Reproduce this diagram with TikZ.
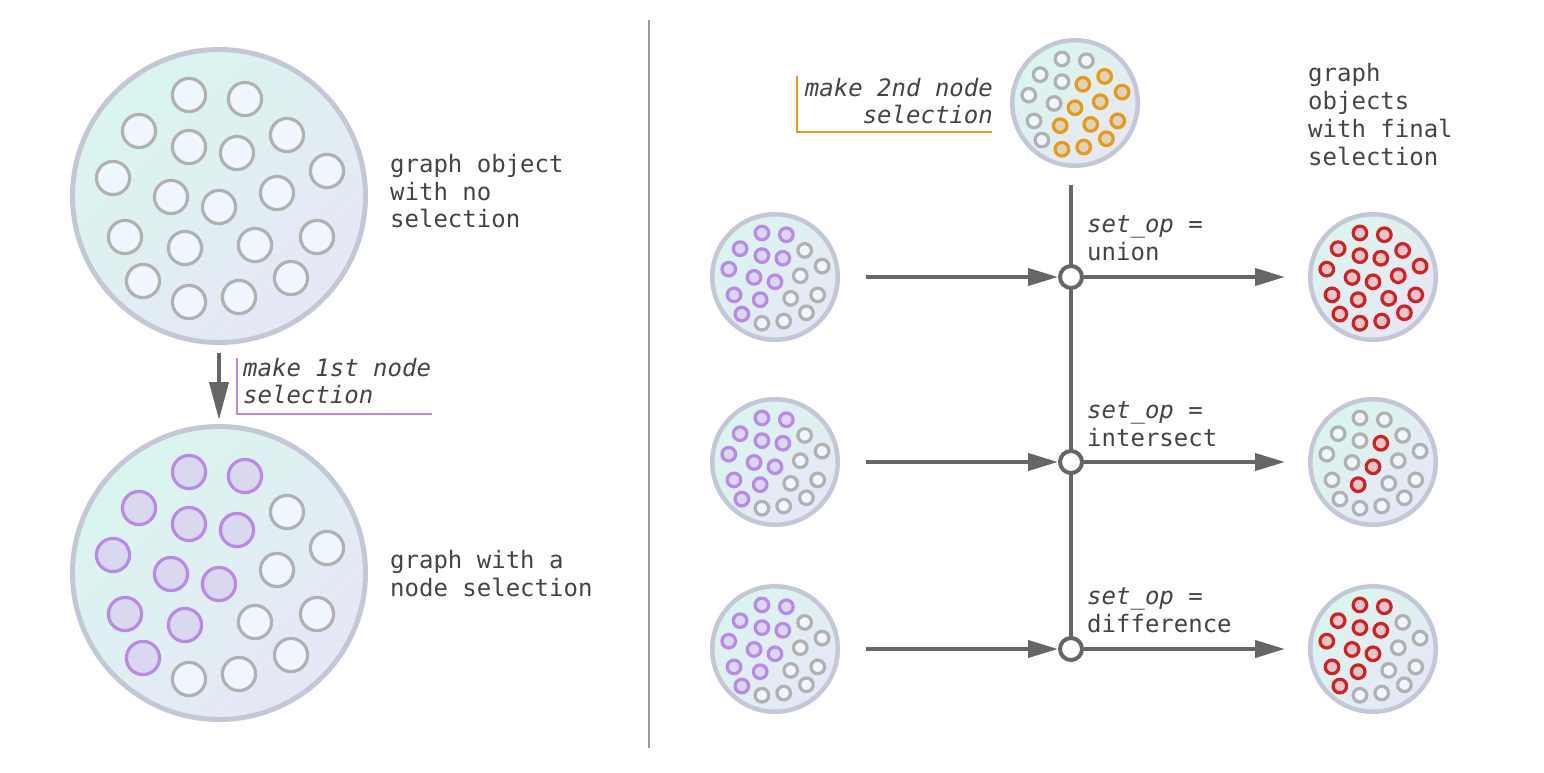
\documentclass[tikz,border=0pt]{standalone}
\usepackage{fontspec}
\newfontfamily\mono{DejaVu Sans Mono}
\usetikzlibrary{arrows.meta}
\pgfdeclarelayer{bg}
\pgfsetlayers{bg,main}
\definecolor{ringc}{HTML}{C4C7D7}
\definecolor{mint}{HTML}{D9F6EE}
\definecolor{lav}{HTML}{E7E7F6}
\definecolor{grayst}{HTML}{B1B1B1}
\definecolor{grayfill}{HTML}{EFF6FD}
\definecolor{purst}{HTML}{BB88EA}
\definecolor{purfill}{HTML}{D9D8EE}
\definecolor{orst}{HTML}{E89A12}
\definecolor{orfill}{HTML}{DCD3C0}
\definecolor{redst}{HTML}{D42020}
\definecolor{redfill}{HTML}{E2C8CC}
\definecolor{linec}{HTML}{666666}
\definecolor{txt}{HTML}{444444}
\definecolor{sepc}{HTML}{9B9B9B}

\def\DX{{-30,26,-80,68,-30,18,-106,108,-48,0,58,-94,-34,36,98,-76,-30,20,72}}
\def\DY{{-101,-97,-65,-61,-49,-43,-18,-25,1,11,-3,41,52,49,41,85,106,101,82}}
\def\SelNone{{0,0,0,0,0,0,0,0,0,0,0,0,0,0,0,0,0,0,0}}
\def\SelP{{1,1,1,0,1,1,1,0,1,1,0,1,1,0,0,1,0,0,0}}
\def\SelO{{0,0,0,1,0,1,0,1,0,1,1,0,1,1,1,0,1,1,1}}
\def\SelAll{{1,1,1,1,1,1,1,1,1,1,1,1,1,1,1,1,1,1,1}}
\def\SelI{{0,0,0,0,0,1,0,0,0,1,0,0,1,0,0,0,0,0,0}}

\newcommand\drawgraphdots[6]{%
  \foreach \i in {0,...,18}{%
    \pgfmathsetmacro\gdx{#1+#3*\DX[\i]}%
    \pgfmathsetmacro\gdy{#2+#3*\DY[\i]}%
    \pgfmathtruncatemacro\gds{#6[\i]}%
    \ifnum\gds=1 \draw[#5] (\gdx,\gdy) circle[radius=#4];%
    \else \draw[graydot] (\gdx,\gdy) circle[radius=#4];\fi
  }}

\newcommand\setop{\textit{set\char"5F op}}

\tikzset{
  graydot/.style={draw=grayst, fill=grayfill, line width=3.2pt},
  purdot/.style={draw=purst, fill=purfill, line width=3.2pt},
  ordot/.style={draw=orst, fill=orfill, line width=3.2pt},
  reddot/.style={draw=redst, fill=redfill, line width=3.2pt},
  bigring/.style={circle, draw=ringc, line width=5pt, minimum size=293pt, inner sep=0pt,
    top color=mint, bottom color=lav, shading angle=45},
  smallring/.style={circle, draw=ringc, line width=4.5pt, minimum size=125.5pt, inner sep=0pt,
    top color=mint, bottom color=lav, shading angle=45},
  junction/.style={circle, draw=linec, fill=white, line width=4pt, minimum size=22pt, inner sep=0pt},
  flow/.style={draw=linec, line width=4pt, -{Triangle[length=30pt,width=17pt]}},
  lbl/.style={text=txt, font=\mono\fontsize{24}{28}\selectfont, inner sep=0pt},
}

\begin{document}
\begin{tikzpicture}[x=1pt,y=-1pt]
\useasboundingbox (0,0) rectangle (1544,772);

% left side
\node[bigring] (B1) at (219,196) {};
\drawgraphdots{219}{196}{1}{16.6pt}{graydot}{\SelNone}
\node[bigring] (B2) at (219,573) {};
\drawgraphdots{219}{573}{1}{16.6pt}{purdot}{\SelP}

% right side: input graphs
\node[smallring] (L1) at (775,277) {};
\drawgraphdots{775}{277}{0.436}{6.8pt}{purdot}{\SelP}
\node[smallring] (L2) at (775,462) {};
\drawgraphdots{775}{462}{0.436}{6.8pt}{purdot}{\SelP}
\node[smallring] (L3) at (775,649) {};
\drawgraphdots{775}{649}{0.436}{6.8pt}{purdot}{\SelP}

% second selection
\node[smallring] (T) at (1075,103) {};
\drawgraphdots{1075}{103}{0.436}{6.8pt}{ordot}{\SelO}

% results
\node[smallring] (R1) at (1373,277) {};
\drawgraphdots{1373}{277}{0.436}{6.8pt}{reddot}{\SelAll}
\node[smallring] (R2) at (1373,462) {};
\drawgraphdots{1373}{462}{0.436}{6.8pt}{reddot}{\SelI}
\node[smallring] (R3) at (1373,649) {};
\drawgraphdots{1373}{649}{0.436}{6.8pt}{reddot}{\SelP}

% junctions
\node[junction] (J1) at (1071,277) {};
\node[junction] (J2) at (1071,462) {};
\node[junction] (J3) at (1071,649) {};
\coordinate (vtop) at (1071,185);

\begin{pgfonlayer}{bg}
\draw[draw=sepc, line width=2pt] (649,20) -- (649,748);
\draw[draw=linec, line width=4pt] (vtop) -- (J3.center);
\end{pgfonlayer}

% arrows
\draw[flow, -{Triangle[length=38pt,width=19pt]}] ([yshift=-8pt]B1.south) -- ([yshift=4pt]B2.north);
\draw[flow] ([xshift=26pt]L1.east) -- (J1.west);
\draw[flow] (J1.east) -- ([xshift=-23pt]R1.west);
\draw[flow] ([xshift=26pt]L2.east) -- (J2.west);
\draw[flow] (J2.east) -- ([xshift=-23pt]R2.west);
\draw[flow] ([xshift=26pt]L3.east) -- (J3.west);
\draw[flow] (J3.east) -- ([xshift=-23pt]R3.west);

% brackets
\draw[draw=purst, line width=2pt] (237,358) -- (237,414) -- (432,414);
\draw[draw=orst, line width=2pt] (797,76) -- (797,132) -- (992,132);

% labels
\node[lbl, anchor=base west] (t1a) at (390,172) {graph object};
\node[lbl, anchor=base west] (t1b) at (390,200) {with no};
\node[lbl, anchor=base west] (t1c) at (390,227) {selection};
\node[lbl, anchor=base west] (t2a) at (390,568) {graph with a};
\node[lbl, anchor=base west] (t2b) at (390,596) {node selection};
\node[lbl, anchor=base west] (m1a) at (243,376) {\itshape make 1st node};
\node[lbl, anchor=base west] (m1b) at (243,403) {\itshape selection};
\node[lbl, anchor=base east] (m2a) at (993,96) {\itshape make 2nd node};
\node[lbl, anchor=base east] (m2b) at (993,123) {\itshape selection};
\node[lbl, anchor=base west] (f1) at (1308,81) {graph};
\node[lbl, anchor=base west] (f2) at (1308,109) {objects};
\node[lbl, anchor=base west] (f3) at (1308,137) {with final};
\node[lbl, anchor=base west] (f4) at (1308,165) {selection};
\node[lbl, anchor=base west] (s1a) at (1087,232) {\setop{} =};
\node[lbl, anchor=base west] (s1b) at (1087,260) {union};
\node[lbl, anchor=base west] (s2a) at (1087,418) {\setop{} =};
\node[lbl, anchor=base west] (s2b) at (1087,446) {intersect};
\node[lbl, anchor=base west] (s3a) at (1087,604) {\setop{} =};
\node[lbl, anchor=base west] (s3b) at (1087,632) {difference};
\end{tikzpicture}
\end{document}
